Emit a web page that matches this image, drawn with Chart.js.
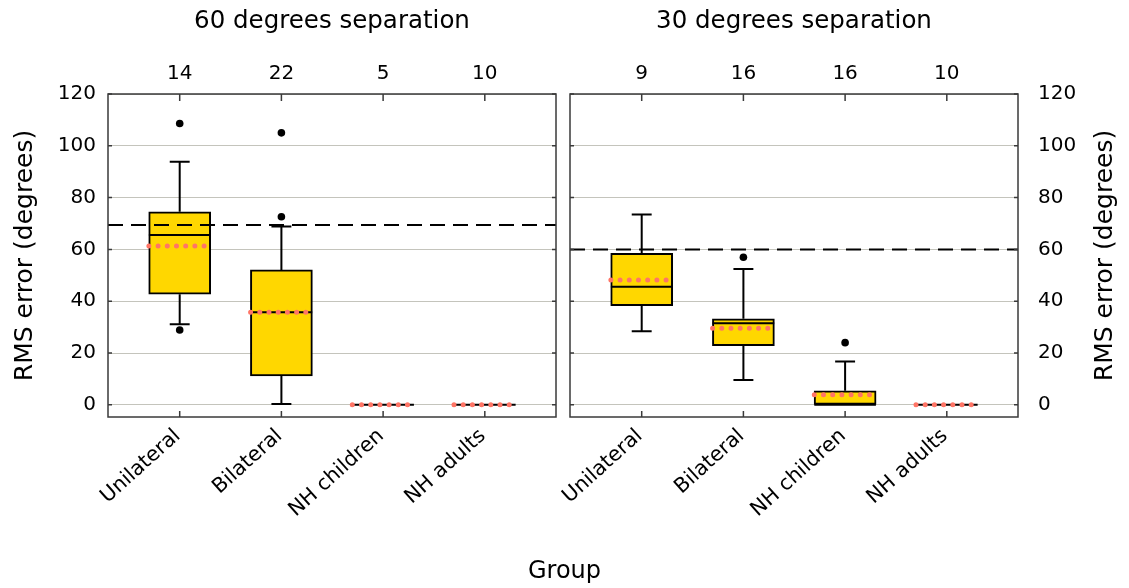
<!DOCTYPE html>
<html><head><meta charset="utf-8">
<script src="https://cdn.jsdelivr.net/npm/chart.js@4.4.1/dist/chart.umd.min.js"></script>
<style>
html,body{margin:0;padding:0;background:#fff;width:1129px;height:588px;overflow:hidden}
#wrap{position:relative;width:1129px;height:588px}
canvas{position:absolute;top:0;left:0}
#xlab{position:absolute;left:0;top:556px;width:1129px;text-align:center;font:24px "DejaVu Sans",sans-serif;line-height:28px;color:#000}
</style></head><body>
<div id="wrap">
<canvas id="c60" width="1129" height="588"></canvas>
<canvas id="c30" width="1129" height="588"></canvas>
<div id="xlab">Group</div>
</div>
<script>
// ---------- data ----------
const groups = ['Unilateral', 'Bilateral', 'NH children', 'NH adults'];
const yTickValues = [0, 20, 40, 60, 80, 100, 120];
const yTitle = 'RMS error (degrees)';

// 60 degrees separation
const title60 = '60 degrees separation';
const counts60 = [14, 22, 5, 10];
const q1_60 = [42.7, 11.2, null, null];
const q3_60 = [74.5, 52.1, null, null];
const median60 = [65.6, 35.7, 0, 0];
const mean60 = [61.3, 35.7, 0, 0];
const whiskerLow60 = [31.1, 0.3, null, null];
const whiskerHigh60 = [93.8, 68.8, null, null];
const outlierGroup60 = [1, 1, 2, 2];
const outlierValue60 = [108.6, 28.9, 105.0, 72.6];
const chance60 = 69.4;

// 30 degrees separation
const title30 = '30 degrees separation';
const counts30 = [9, 16, 16, 10];
const q1_30 = [38.3, 22.8, 0, null];
const q3_30 = [58.5, 33.2, 5.4, null];
const median30 = [45.6, 31.5, 0, 0];
const mean30 = [48.2, 29.6, 3.9, 0];
const whiskerLow30 = [28.4, 9.6, 0, null];
const whiskerHigh30 = [73.5, 52.4, 16.7, null];
const outlierGroup30 = [2, 3];
const outlierValue30 = [57.0, 24.0];
const chance30 = 60.0;

// ---------- styling / layout constants ----------
const FONT = "'DejaVu Sans', sans-serif";
const X_MIN = 0.295, X_MAX = 4.70;
const Y_MIN = -4.7, Y_MAX = 120;
const BOX_HALF = 0.303;   // half box width in category units
const CAP_HALF = 0.098;   // half whisker-cap width
const BOX_COLOR = '#FFD700';
const MEAN_COLOR = '#FF7566';
const GRID_COLOR = '#c4c4bc';
const TITLE_PAD_TOP = 7, TITLE_SIZE = 24.5;
const TITLE_H = TITLE_PAD_TOP + TITLE_SIZE * 1.2;
const PLOT_TOP = 94, PLOT_BOTTOM = 417, CANVAS_H = 588;

const framePlugin = {
  id: 'frame',
  afterDatasetsDraw(chart) {
    const {ctx, chartArea: a, scales} = chart;
    ctx.save();
    ctx.strokeStyle = '#3a3a3a';
    ctx.lineWidth = 1.5;
    ctx.strokeRect(a.left, a.top, a.right - a.left, a.bottom - a.top);
    ctx.beginPath();
    scales.x.ticks.forEach(t => {
      const px = scales.x.getPixelForValue(t.value);
      ctx.moveTo(px, a.top); ctx.lineTo(px, a.top + 7);
      ctx.moveTo(px, a.bottom); ctx.lineTo(px, a.bottom - 6);
    });
    scales.y.ticks.forEach(t => {
      const py = scales.y.getPixelForValue(t.value);
      ctx.moveTo(a.left, py); ctx.lineTo(a.left + 4, py);
      ctx.moveTo(a.right, py); ctx.lineTo(a.right - 4, py);
    });
    ctx.stroke();
    ctx.restore();
  }
};

const rightTitlePlugin = {
  id: 'rightTitle',
  afterDraw(chart) {
    const s = chart.scales.y, a = chart.chartArea, ctx = chart.ctx;
    ctx.save();
    ctx.translate(s.right - 24, (a.top + a.bottom) / 2);
    ctx.rotate(-Math.PI / 2);
    ctx.font = '25px ' + FONT;
    ctx.fillStyle = '#000';
    ctx.textAlign = 'center';
    ctx.textBaseline = 'middle';
    ctx.fillText(yTitle, 0, 0);
    ctx.restore();
  }
};

function buildPanel(canvasId, p) {
  const boxes = [], segs = [], means = [], outs = [];
  groups.forEach((g, i) => {
    const x = i + 1;
    if (p.q1[i] != null && p.q3[i] != null) boxes.push({x, y: [p.q1[i], p.q3[i]]});
    if (p.hi[i] != null) {
      segs.push({x, y: p.q3[i]}, {x, y: p.hi[i]}, {x, y: null});
      segs.push({x: x - CAP_HALF, y: p.hi[i]}, {x: x + CAP_HALF, y: p.hi[i]}, {x, y: null});
    }
    if (p.lo[i] != null) {
      segs.push({x, y: p.q1[i]}, {x, y: p.lo[i]}, {x, y: null});
      segs.push({x: x - CAP_HALF, y: p.lo[i]}, {x: x + CAP_HALF, y: p.lo[i]}, {x, y: null});
    }
    if (p.med[i] != null) segs.push({x: x - BOX_HALF, y: p.med[i]}, {x: x + BOX_HALF, y: p.med[i]}, {x, y: null});
    if (p.mean[i] != null) means.push({x: x - BOX_HALF, y: p.mean[i]}, {x: x + BOX_HALF, y: p.mean[i]}, {x, y: null});
  });
  p.outG.forEach((g, k) => outs.push({x: g, y: p.outV[k]}));

  const xTicks = s => { s.ticks = groups.map((g, i) => ({value: i + 1})); };
  const right = p.side === 'right';

  return new Chart(document.getElementById(canvasId), {
    type: 'bar',
    data: {
      datasets: [
        {type: 'line', data: means, borderColor: MEAN_COLOR, borderWidth: 5, borderDash: [0, 9.2],
         borderCapStyle: 'round', pointRadius: 0, spanGaps: false, fill: false, order: 0},
        {type: 'scatter', data: outs, pointRadius: 3.8, pointBackgroundColor: '#000', pointBorderWidth: 0, order: 1},
        {type: 'line', data: [{x: X_MIN, y: p.chance}, {x: X_MAX, y: p.chance}], borderColor: '#000', borderWidth: 2,
         borderDash: [15, 8], pointRadius: 0, fill: false, order: 2},
        {type: 'line', data: segs, borderColor: '#000', borderWidth: 2, pointRadius: 0, spanGaps: false,
         fill: false, borderCapStyle: 'butt', order: 3},
        {type: 'bar', data: boxes, backgroundColor: BOX_COLOR, borderColor: '#000', borderWidth: 2,
         borderSkipped: false, barThickness: 62, order: 4}
      ]
    },
    options: {
      responsive: false, animation: false, devicePixelRatio: 1,
      layout: {padding: right ? {left: 570, right: 0, top: 0, bottom: 0} : {left: 0, right: 573, top: 0, bottom: 0}},
      plugins: {
        legend: {display: false}, tooltip: {enabled: false},
        title: {display: true, text: p.title, fullSize: false, color: '#000',
                font: {family: FONT, size: TITLE_SIZE, weight: 'normal'}, padding: {top: TITLE_PAD_TOP, bottom: 0}}
      },
      scales: {
        x: {type: 'linear', position: 'bottom', min: X_MIN, max: X_MAX, offset: false,
            grid: {display: false, drawTicks: false}, border: {display: false},
            afterBuildTicks: xTicks,
            ticks: {callback: (v, i) => groups[i], minRotation: 42, maxRotation: 42, autoSkip: false,
                    padding: 7, labelOffset: -2, color: '#000', font: {family: FONT, size: 20.5}},
            afterFit: s => { s.height = CANVAS_H - PLOT_BOTTOM; s.paddingLeft = 0; s.paddingRight = 0; }},
        xt: {type: 'linear', position: 'top', min: X_MIN, max: X_MAX, offset: false,
             grid: {display: false, drawTicks: false}, border: {display: false},
             afterBuildTicks: xTicks,
             ticks: {callback: (v, i) => String(p.counts[i]), maxRotation: 0, autoSkip: false, padding: 8,
                     color: '#000', font: {family: FONT, size: 20}},
             afterFit: s => { s.height = PLOT_TOP - TITLE_H; s.paddingLeft = 0; s.paddingRight = 0; }},
        y: {type: 'linear', position: p.side, min: Y_MIN, max: Y_MAX,
            afterBuildTicks: s => { s.ticks = yTickValues.map(v => ({value: v})); },
            grid: {color: GRID_COLOR, lineWidth: 1, drawTicks: false}, border: {display: false},
            ticks: {padding: right ? 20 : 12, color: '#000', font: {family: FONT, size: 20}},
            title: {display: !right, text: yTitle, color: '#000', font: {family: FONT, size: 25},
                    padding: {top: 10, bottom: 0}},
            afterFit: s => { s.width = right ? 111 : 108; }}
      }
    },
    plugins: right ? [framePlugin, rightTitlePlugin] : [framePlugin]
  });
}

buildPanel('c60', {title: title60, counts: counts60, q1: q1_60, q3: q3_60, med: median60, mean: mean60,
  lo: whiskerLow60, hi: whiskerHigh60, outG: outlierGroup60, outV: outlierValue60, chance: chance60, side: 'left'});
buildPanel('c30', {title: title30, counts: counts30, q1: q1_30, q3: q3_30, med: median30, mean: mean30,
  lo: whiskerLow30, hi: whiskerHigh30, outG: outlierGroup30, outV: outlierValue30, chance: chance30, side: 'right'});
</script>
</body></html>
